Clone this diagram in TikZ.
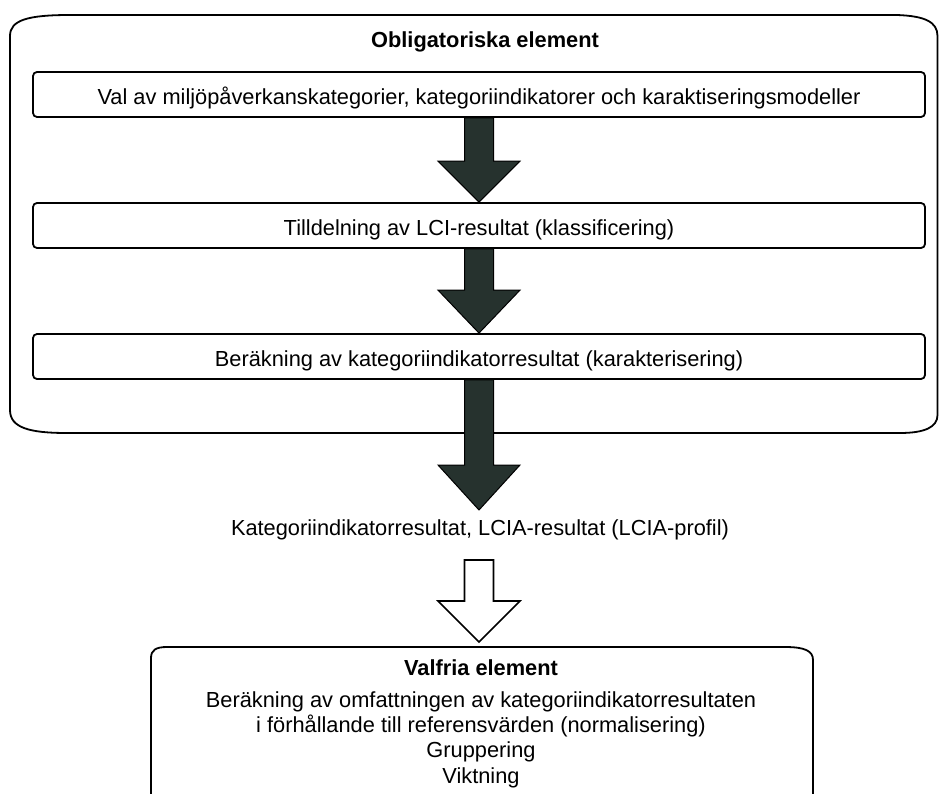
\documentclass[tikz,border=0pt]{standalone}
\usepackage{fontspec}
\setmainfont{Liberation Sans}
\usetikzlibrary{calc}
\definecolor{arrowfill}{RGB}{38,50,46}
\tikzset{
  lbl/.style={font=\fontsize{21.8}{25.3}\selectfont},
  stepbox/.style={draw, line width=1.8pt, rounded corners=4pt,
    minimum width=892pt, minimum height=45pt, inner sep=0pt,
    text height=20pt, text depth=0pt},
  frame/.style={draw, line width=1.8pt},
  darkarrow/.style={draw=black, line width=1pt, fill=arrowfill, line join=miter},
  whitearrow/.style={draw=black, line width=1.6pt, fill=white, line join=miter},
}
% block arrow: style, start, tip, head length
\newcommand\blockarrow[4]{%
  \path[#1] let \p1=($(#2)$), \p2=($(#3)$) in
    (\x1-14.5pt,\y1) -- (\x1+14.5pt,\y1) -- (\x1+14.5pt,\y2+#4)
    -- (\x1+41pt,\y2+#4) -- (\x1,\y2) -- (\x1-41pt,\y2+#4)
    -- (\x1-14.5pt,\y2+#4) -- cycle;}
\begin{document}
\begin{tikzpicture}[x=1pt, y=1pt, every node/.style={lbl}]
\useasboundingbox (0,0) rectangle (939,-794);

% frame of the mandatory elements
\draw[frame] (10,-36) .. controls (10,-20) and (28,-15) .. (70,-15)
  -- (897,-15) .. controls (925,-16) and (937.5,-22) .. (937.5,-36)
  -- (937.5,-415) .. controls (937.5,-427) and (925,-433) .. (900,-433)
  -- (67,-433) .. controls (30,-433) and (10,-428) .. (10,-410) -- cycle;

\node[anchor=base, font=\fontsize{21.8}{25.8}\selectfont\bfseries] (title) at (485,-48) {Obligatoriska element};

\node[stepbox] (b1) at (479,-94.5) {Val av miljöpåverkanskategorier, kategoriindikatorer och karaktiseringsmodeller};
\node[stepbox] (b2) at (479,-225.5) {Tilldelning av LCI-resultat (klassificering)};
\node[stepbox] (b3) at (479,-356.5) {Beräkning av kategoriindikatorresultat (karakterisering)};

% result between the two groups
\node[anchor=base] (res) at (480,-535) {Kategoriindikatorresultat, LCIA-resultat (LCIA-profil)};
\coordinate (tip3) at (479,-510);
\coordinate (wstart) at (479,-560);
\coordinate (vtop) at (479,-642);

% box of the optional elements, open at the bottom
\draw[frame] (151,-794) -- (151,-658) .. controls (151,-650) and (156,-647) .. (167,-647)
  -- (785,-647) .. controls (805,-647) and (813,-651) .. (813,-660) -- (813,-794);
\node[anchor=north, align=center, inner sep=0pt] (opt) at (481,-659.5)
  {\textbf{Valfria element}\\[6.5pt]
   Beräkning av omfattningen av kategoriindikatorresultaten\\
   i förhållande till referensvärden (normalisering)\\
   Gruppering\\
   Viktning};

% arrows
\blockarrow{darkarrow}{b1.south}{b2.north}{41pt}
\blockarrow{darkarrow}{b2.south}{b3.north}{43pt}
\blockarrow{darkarrow}{b3.south}{tip3}{45pt}
\blockarrow{whitearrow}{wstart}{vtop}{41pt}
\end{tikzpicture}
\end{document}
